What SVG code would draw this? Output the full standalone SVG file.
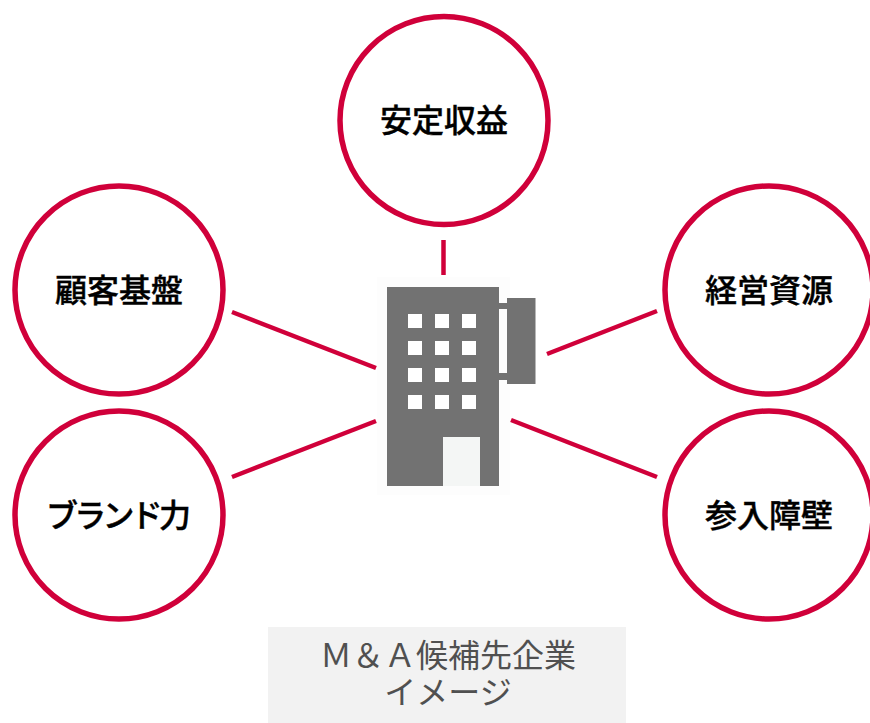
<svg xmlns="http://www.w3.org/2000/svg" width="870" height="723" viewBox="0 0 870 723">
<style>
.c{fill:#fff;stroke:#d0003a;stroke-width:5.5}
.l{stroke:#d0003a;stroke-width:4.5;fill:none}
.t{font-family:"Noto Sans CJK JP","Noto Sans",sans-serif;font-size:32px;font-weight:500;fill:#000;stroke:#000;stroke-width:.4px;text-anchor:middle}
.b{fill:#727272}
.w{fill:#fff}
.k{font-family:"Noto Sans CJK JP","Noto Sans",sans-serif;font-size:32px;font-weight:400;fill:#505050;text-anchor:middle}
</style>
<rect width="870" height="723" fill="#fff"/>
<g id="connectors">
<line class="l" x1="443.500" y1="240" x2="443.500" y2="275"/>
<line class="l" x1="232" y1="312" x2="376" y2="368"/>
<line class="l" x1="232" y1="477" x2="376" y2="421"/>
<line class="l" x1="657" y1="311" x2="547" y2="354"/>
<line class="l" x1="657" y1="477" x2="511" y2="420"/>
</g>
<g id="n1"><circle class="c" cx="444" cy="120.500" r="104"/><text class="t" x="444" y="132">安定収益</text></g>
<g id="n2"><circle class="c" cx="119" cy="290" r="104"/><text class="t" x="119" y="302">顧客基盤</text></g>
<g id="n3"><circle class="c" cx="119" cy="515" r="104"/><text class="t" x="118.500" y="527" textLength="145" lengthAdjust="spacing">ブランド力</text></g>
<g id="n4"><circle class="c" cx="769" cy="290" r="104"/><text class="t" x="769" y="302">経営資源</text></g>
<g id="n5"><circle class="c" cx="769" cy="515" r="104"/><text class="t" x="769" y="527">参入障壁</text></g>
<g id="building">
<rect x="377" y="277" width="133" height="218" fill="#fdfdfd"/>
<rect x="387" y="287" width="112" height="199" class="b"/>
<rect x="507" y="298" width="28.500" height="86" class="b"/>
<rect x="499" y="303" width="8" height="6" class="b"/>
<rect x="499" y="373" width="8" height="7" class="b"/>
<rect x="443" y="437" width="37" height="49" fill="#f4f6f5"/>
<g class="w">
<rect x="408" y="314" width="14" height="14"/><rect x="435" y="314" width="14" height="14"/><rect x="462" y="314" width="14" height="14"/>
<rect x="408" y="341" width="14" height="14"/><rect x="435" y="341" width="14" height="14"/><rect x="462" y="341" width="14" height="14"/>
<rect x="408" y="368" width="14" height="14"/><rect x="435" y="368" width="14" height="14"/><rect x="462" y="368" width="14" height="14"/>
<rect x="408" y="395" width="14" height="14"/><rect x="435" y="395" width="14" height="14"/><rect x="462" y="395" width="14" height="14"/>
</g>
</g>
<g id="caption">
<rect x="268" y="627" width="358" height="96" fill="#f2f2f2"/>
<text class="k" x="448" y="667">Ｍ＆Ａ候補先企業</text>
<text class="k" x="448" y="704">イメージ</text>
</g>
</svg>
